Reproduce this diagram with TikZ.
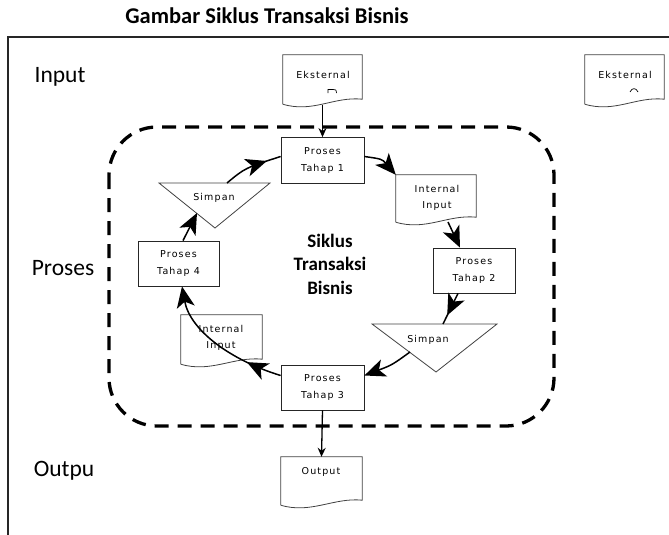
\documentclass[tikz,border=0pt]{standalone}
\usepackage{fontspec}
\setmainfont{Carlito}
\newfontfamily\boxfont[LetterSpace=12]{DejaVu Sans}
\usetikzlibrary{arrows.meta,calc,decorations.markings}

\tikzset{
  frameline/.style={line width=1.4pt, draw=black!85},
  procbox/.style={draw=black!85, line width=0.8pt, rectangle, inner sep=0pt,
    minimum width=83pt, minimum height=46pt, align=center,
    font=\boxfont\fontsize{9.5}{17.5}\selectfont},
  docbox/.style={draw=none, rectangle, inner sep=0pt, minimum width=80pt, minimum height=52pt},
  docline/.style={draw=black!75, line width=0.8pt},
  boxtxt/.style={inner sep=0pt, align=center, font=\boxfont\fontsize{9.5}{16.5}\selectfont},
  sidelabel/.style={inner sep=0pt, font=\fontsize{23.5}{25}\selectfont},
  cyc/.style={line width=1.5pt, draw=black},
  bigtip/.tip={Stealth[length=21pt,width=18pt,inset=5.5pt]},
  fattip/.style={-bigtip},
  midtip/.style={decoration={markings, mark=at position #1 with
    {\arrow{bigtip}}}, postaction=decorate},
  loopline/.style={line width=3.3pt, dash pattern=on 14pt off 9pt, rounded corners=48pt},
}

% outline of a flowchart "document" symbol around a node
\newcommand{\docoutline}[1]{%
  \draw[docline] ($(#1.south west)+(0,-3)$) -- (#1.north west) -- (#1.north east)
    -- ($(#1.south east)+(0,-8)$)
    .. controls ($(#1.south east)+(-28,-11)$) and ($(#1.south west)+(30,6)$)
    .. ($(#1.south west)+(0,-3)$);}

\begin{document}
\begin{tikzpicture}[x=1pt,y=-1pt]
\useasboundingbox (0,0) rectangle (669,535);

% title and outer frame
\node[inner sep=0pt, font=\bfseries\fontsize{22.5}{24}\selectfont] (title) at (267,16) {Gambar Siklus Transaksi Bisnis};
\draw[frameline] (8,535) -- (8,37) -- (669,37);

% row labels
\node[sidelabel] (lin) at (60,77) {Input};
\node[sidelabel] (lpr) at (63,268) {Proses};
\node[sidelabel] (lout) at (64,471) {Outpu};

% dashed cycle boundary
\draw[loopline] (109,127) rectangle (554,426);

% process boxes
\node[procbox] (t1) at (322.5,160.5) {Proses\\Tahap 1};
\node[procbox, minimum width=82pt, minimum height=45pt] (t2) at (474,270.5) {Proses\\Tahap 2};
\node[procbox, minimum height=45pt] (t3) at (322.5,387.5) {Proses\\Tahap 3};
\node[procbox, minimum width=81pt, minimum height=45pt] (t4) at (178.5,263.5) {Proses\\Tahap 4};

% document symbols
\node[docbox, minimum width=79pt] (ek1) at (322.5,81) {};
\node[docbox, minimum width=79pt] (ek2) at (624.5,81) {};
\node[docbox, minimum height=50pt] (ii1) at (436,200) {};
\node[docbox, minimum width=81pt] (ii2) at (221.5,341) {};
\node[docbox, minimum width=81pt, minimum height=51pt] (out) at (321.5,482.5) {};
\docoutline{ek1}
\docoutline{ek2}
\docoutline{ii1}
\docoutline{ii2}
\docoutline{out}
\node[boxtxt] (ek1t) at (323,75) {Eksternal};
\node[boxtxt] (ek2t) at (625,75) {Eksternal};
\draw[line width=0.7pt] (328,93) -- (328,89.5) -- (333,89.5) .. controls (336,89.5) .. (336.5,93);
\draw[line width=0.7pt] (630,92) .. controls (632,87.5) and (636,87.5) .. (638,92);
\node[boxtxt] (ii1t) at (437,198) {Internal\\Input};
\node[boxtxt] (ii2t) at (221,338) {Internal\\Input};
\node[boxtxt] (outt) at (321,472) {Output};

% storage symbols
\node[boxtxt] (s1) at (214,198) {Simpan};
\draw[docline] (159,183) -- (270,183) -- (215,228) -- cycle;
\node[boxtxt] (s2) at (428,340) {Simpan};
\draw[docline] (372,324) -- (497,324) -- (436,372) -- cycle;
\coordinate (s1in) at (197,213);
\coordinate (s1out) at (227,183);
\coordinate (s2in) at (443,324);
\coordinate (s2out) at (410,352);

% centre caption
\node[inner sep=0pt, align=center, font=\bfseries\fontsize{19}{23.5}\selectfont] (cap) at (330,264) {Siklus\\Transaksi\\Bisnis};

% input and output flows
\draw[cyc, line width=1.3pt, -{Stealth[length=9pt,width=8pt]}] ($(ek1.south)+(0,-2)$) -- (t1.north);
\draw[cyc, line width=1.3pt, -{Stealth[length=9pt,width=8pt]}] (t3.south) -- (out.north);

% the cycle
\draw[cyc, fattip] ($(t1.east)+(0,-4)$) .. controls (382,159) .. (ii1.north west);
\draw[cyc, fattip] (448,222) -- (460,0 |- t2.north);
\draw[cyc, midtip=0.72] (458,0 |- t2.south) -- (s2in);
\draw[cyc, fattip] (s2out) .. controls (392,365) .. ($(t3.east)+(0,-12)$);
\draw[cyc, fattip, midtip=0.26] ($(t3.west)+(0,-12)$) .. controls (230,360) and (190,330) .. (182,0 |- t4.south);
\draw[cyc, fattip] (183,0 |- t4.north) -- (s1in);
\draw[cyc, midtip=0.76] (s1out) .. controls (245,168) .. ($(t1.west)+(0,-4)$);
\end{tikzpicture}
\end{document}
